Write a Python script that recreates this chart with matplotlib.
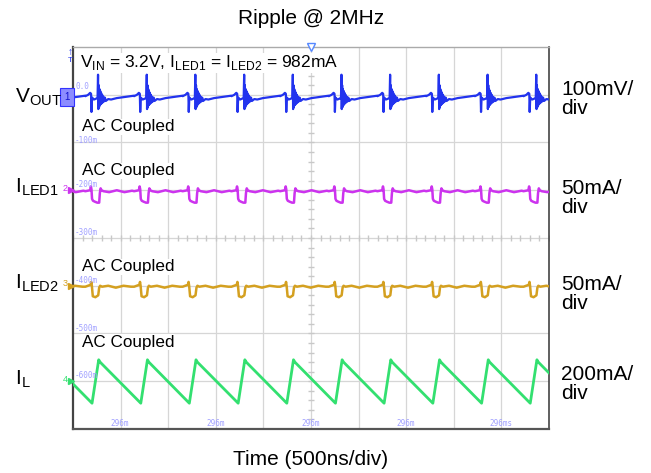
import numpy as np
import matplotlib
matplotlib.use("Agg")
import matplotlib.pyplot as plt

plt.rcParams['font.family'] = ['Liberation Sans', 'DejaVu Sans']
plt.rcParams['mathtext.fontset'] = 'custom'
plt.rcParams['mathtext.rm'] = 'Liberation Sans'

# ---- data read off the scope shot (time in ns, 500 ns/div, 10 div) ----
# start of each switching cycle = valley of the inductor current
cycle_t = [-311, 200, 712, 1222, 1735, 2246, 2757, 3268, 3780, 4292, 4803, 5314]

# inductor current, one cycle (mA, 200 mA/div)
il_dt = [0, 70, 85]
il_ma = [-92, 90, 80]

# LED1 current, one cycle (mA, 50 mA/div)
led1_dt = [-70, -20, -12, -6, 0, 10, 30, 55, 75, 82, 90, 100, 120, 180, 260, 340, 420]
led1_ma = [-1, 0, 4, 1, -9, -11, -12, -13, -13, -3, 2, 0, -1, -2, 0, -2, -0.5]

# LED2 current, one cycle (mA, 50 mA/div)
led2_dt = [-70, -15, -8, -2, 8, 35, 65, 75, 85, 105, 170, 250, 330, 410]
led2_ma = [-1, 1, 4, 0, -11, -12, -10, -2, 0, -1, 0, -2, 0, -1]

# output voltage ripple, one cycle (mV, 100 mV/div)
vout_dt = [-70, -40, -20, -10, -6, 0, 20, 45, 58, 63, 66, 70, 74, 78, 82, 86,
           90, 95, 100, 106, 112, 118, 126, 135, 145, 170, 200, 260, 330, 400, 440]
vout_mv = [-3, 0, 4, 2, -36, -6, -10, -8, -6, 42, -30, 20, -26, 12, -22, 8,
           -20, 4, -18, 0, -16, -4, -14, -6, -13, -9, -10, -7, -5, -3, -2]

# channel settings: offset in div, per-div scale, colour
ch_offsets = [3, 1, -1, -3]
ch_scales = [100, 50, 50, 200]
ch_colors = ['#2233ee', '#cc33ee', '#d4a020', '#33e070']

left_labels = [r'V$_{\mathregular{OUT}}$', r'I$_{\mathregular{LED1}}$',
               r'I$_{\mathregular{LED2}}$', r'I$_{\mathregular{L}}$']
right_labels = ['100mV/\ndiv', '50mA/\ndiv', '50mA/\ndiv', '200mA/\ndiv']
scale_marks = ['-100m', '-200m', '-300m', '-400m', '-500m', '-600m']
time_marks = ['296m', '296m', '296m', '296m', '296ms']


def build(dts, vals):
    t = np.concatenate([c + np.array(dts, float) for c in cycle_t])
    v = np.tile(np.array(vals, float), len(cycle_t))
    return t, v


W, H = 651, 473


def fx(px):
    return px / W


def fy(py):
    return 1 - py / H


fig = plt.figure(figsize=(6.51, 4.73), dpi=100)
ax = fig.add_axes([fx(73), fy(429), 476 / W, 382 / H])
ax.set_xlim(0, 5000)
ax.set_ylim(-4, 4)
ax.set_xticks([])
ax.set_yticks([])

# graticule
for xv in np.arange(500, 5000, 500):
    ax.axvline(xv, color='#d6d6d6', lw=0.9, zorder=0)
for yv in np.arange(-3, 4, 1):
    ax.axhline(yv, color='#d6d6d6', lw=0.9, zorder=0)
ax.plot(np.full(41, 2500), np.arange(-4, 4.01, 0.2), ls='none', marker='_',
        ms=5, color='#c8c8c8', zorder=0)
ax.plot(np.arange(0, 5001, 100), np.zeros(51), ls='none', marker='|',
        ms=5, color='#c8c8c8', zorder=0)

for side, col, lw in [('left', '#444444', 1.6), ('bottom', '#555555', 1.6),
                      ('right', '#444444', 1.2), ('top', '#aaaaaa', 1.0)]:
    ax.spines[side].set_color(col)
    ax.spines[side].set_linewidth(lw)

# traces
traces = [build(vout_dt, vout_mv), build(led1_dt, led1_ma),
          build(led2_dt, led2_ma), build(il_dt, il_ma)]
widths = [1.6, 1.8, 1.8, 2.0]
for (t, v), off, sc, col, lw in zip(traces, ch_offsets, ch_scales, ch_colors, widths):
    ax.plot(t, v / sc + off, color=col, lw=lw, zorder=3)

# faint scope readouts
mark_y = [146, 190, 238, 286, 334, 381]
fig.text(fx(75), fy(91), '0.0', fontsize=5.5, color='#a0a0ff',
         family='DejaVu Sans Mono', va='bottom')
for lab, yy in zip(scale_marks, mark_y):
    fig.text(fx(75), fy(yy - 1), lab, fontsize=5.5, color='#a0a0ff',
             family='DejaVu Sans Mono', va='bottom')
for lab, xx in zip(time_marks, [120, 216, 311, 406, 501]):
    fig.text(fx(xx), fy(423), lab, fontsize=5.5, color='#a0a0ff',
             family='DejaVu Sans Mono', ha='center', va='center')

# channel ground markers on the left edge
for i, (off, col) in enumerate(zip(ch_offsets, ch_colors)):
    ax.plot([-25], [off], marker='>', ms=4, color=col, clip_on=False, zorder=5)
    if i == 0:
        fig.text(fx(67), fy(97), '1', fontsize=7, color='#1111cc', ha='center',
                 va='center', bbox=dict(boxstyle='square,pad=0.45',
                                        fc='#8c8cff', ec='#3333ff', lw=0.8))
    else:
        ypix = 238 - off * 47.75
        fig.text(fx(65), fy(ypix - 2), str(i + 1), fontsize=6.5, color=col,
                 ha='center', va='center')

# trigger markers
fig.text(fx(70), fy(52), '↑', fontsize=7, color='#2233ee', ha='center', va='center')
fig.text(fx(70), fy(61), 'T', fontsize=6, color='#2233ee', ha='center', va='center')
ax.plot([2500], [4], marker='v', ms=6, mfc='white', mec='#5588ff', clip_on=False, zorder=6)

# inside annotations
fig.text(fx(80), fy(63), r'V$_{\mathregular{IN}}$ = 3.2V, I$_{\mathregular{LED1}}$ = '
         r'I$_{\mathregular{LED2}}$ = 982mA', fontsize=12.5, va='center',
         bbox=dict(fc='white', ec='none', pad=0.5), zorder=10)
for yy in [127, 171, 267, 342]:
    fig.text(fx(82), fy(yy), 'AC Coupled', fontsize=12.3, va='center',
             bbox=dict(fc='white', ec='none', pad=0.5), zorder=10)

# outside labels
for lab, yy in zip(left_labels, [97, 187, 283, 379]):
    fig.text(fx(15), fy(yy), lab, fontsize=15, va='center', ha='left')
for lab, yy in zip(right_labels, [99, 198, 294, 384]):
    fig.text(fx(561), fy(yy), lab, fontsize=15, va='center', ha='left',
             linespacing=1.05)

fig.text(0.5 * (73 + 549) / W, fy(18), 'Ripple @ 2MHz', fontsize=15,
         ha='center', va='center')
fig.text(0.5 * (73 + 549) / W, fy(459), 'Time (500ns/div)', fontsize=15,
         ha='center', va='center')

fig.savefig('out.png', dpi=100)
